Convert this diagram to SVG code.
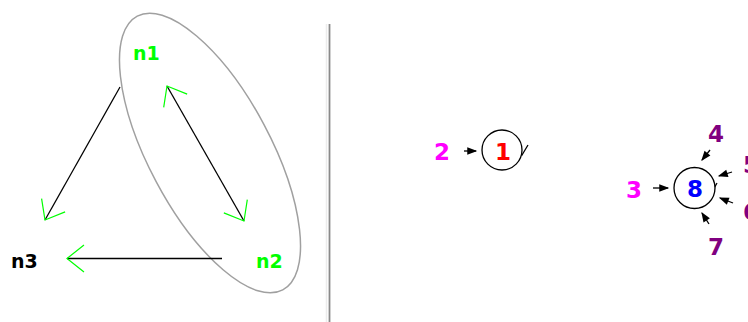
<svg xmlns="http://www.w3.org/2000/svg" width="748" height="322" viewBox="0 0 748 322">
<style>
  .lbl { font-family: "DejaVu Sans", "Liberation Sans", sans-serif; font-weight: bold; }
  .nl { font-size: 19px; }
  .dg { font-size: 23px; text-anchor: middle; }
  .edge { stroke: #000; stroke-width: 1.3; fill: none; }
  .small { stroke: #000; stroke-width: 1.3; fill: none; }
  .circ { fill: #fff; stroke: #000; stroke-width: 1.3; }
</style>
<defs>
  <marker id="vg" markerUnits="userSpaceOnUse" markerWidth="40" markerHeight="40" viewBox="-20 -20 40 40" refX="0" refY="0" orient="auto-start-reverse" overflow="visible">
    <path d="M-17,-13.5 L0,0 L-17,13.5" fill="none" stroke="#00ff00" stroke-width="1.2"/>
  </marker>
  <marker id="ah" markerUnits="userSpaceOnUse" markerWidth="10" markerHeight="10" viewBox="0 0 8 6" refX="7" refY="3" orient="auto" overflow="visible">
    <path d="M0,0 L8,3 L0,6 z" fill="#000"/>
  </marker>
</defs>
<rect width="748" height="322" fill="#fff"/>

<!-- divider -->
<line x1="326.5" y1="24" x2="326.5" y2="322" stroke="#ececec" stroke-width="1.5"/>
<line x1="329.5" y1="24" x2="329.5" y2="322" stroke="#8a8a8a" stroke-width="1.8"/>

<!-- group ellipse -->
<g id="group-n1-n2">
  <ellipse cx="210" cy="153" rx="155" ry="61" transform="rotate(62 210 153)" fill="none" stroke="#a0a0a0" stroke-width="1.5"/>
</g>

<g id="connectors">
  <line class="edge" x1="120" y1="87" x2="45" y2="220" marker-end="url(#vg)"/>
  <line class="edge" x1="167" y1="86" x2="244" y2="221" marker-start="url(#vg)" marker-end="url(#vg)"/>
  <line class="edge" x1="222" y1="258.5" x2="67" y2="258.5" marker-end="url(#vg)"/>
  <line class="small" x1="464" y1="151" x2="476" y2="151" marker-end="url(#ah)"/>
  <path class="small" d="M519,150 L522,155 L528,145"/>
  <line class="small" x1="653" y1="188" x2="668" y2="188" marker-end="url(#ah)"/>
  <line class="small" x1="710" y1="150" x2="702" y2="160" marker-end="url(#ah)"/>
  <line class="small" x1="732" y1="172" x2="719" y2="176" marker-end="url(#ah)"/>
  <line class="small" x1="733" y1="203" x2="720" y2="198" marker-end="url(#ah)"/>
  <line class="small" x1="709" y1="224" x2="702" y2="213" marker-end="url(#ah)"/>
  <path class="small" d="M708,185 L712,192 L717,183"/>
</g>

<g id="n1"><text class="lbl nl" x="133" y="60" fill="#00ff00">n1</text></g>
<g id="n2"><text class="lbl nl" x="256" y="268" fill="#00ff00">n2</text></g>
<g id="n3"><text class="lbl nl" x="11" y="268" fill="#000">n3</text></g>

<g id="node-1">
  <circle class="circ" cx="502" cy="150" r="20"/>
  <text class="lbl dg" x="503" y="160" fill="#ff0000">1</text>
</g>
<g id="node-2"><text class="lbl dg" x="442" y="160" fill="#ff00ff">2</text></g>

<g id="node-8">
  <circle class="circ" cx="694.5" cy="188" r="20.5"/>
  <text class="lbl dg" x="695" y="197" fill="#0000ff">8</text>
</g>
<g id="node-3"><text class="lbl dg" x="634" y="198" fill="#ff00ff">3</text></g>
<g id="node-4"><text class="lbl dg" x="716" y="142" fill="#800080">4</text></g>
<g id="node-5"><text class="lbl" x="743" y="173" font-size="23" fill="#800080">5</text></g>
<g id="node-6"><text class="lbl" x="743" y="220" font-size="23" fill="#800080">6</text></g>
<g id="node-7"><text class="lbl dg" x="716" y="255" fill="#800080">7</text></g>
</svg>
